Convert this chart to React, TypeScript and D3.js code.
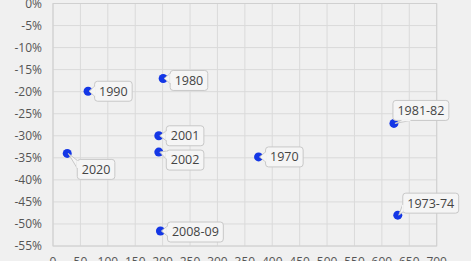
import React, { useEffect, useRef } from "react";
import * as d3 from "d3";

const labels = ["1970", "1973-74", "1980", "1981-82", "1990", "2001", "2002", "2008-09", "2020"];
const durations = [375, 629, 201, 622, 64, 193, 193, 196, 26];
const declines = [-34.8, -48.0, -17.0, -27.2, -19.9, -30.0, -33.7, -51.6, -34.0];
// label box offsets (dx to box left, dy of box centre) relative to the point
const labelDx = [7, 5, 7, -1, 6.5, 7.5, 7.5, 7, 10];
const labelDy = [0, -12, 2, -13, 0, 0, 8, 1, 16];
const xTicks = d3.range(0, 701, 50);
const yTicks = d3.range(0, -56, -5);

const W = 471;
const H = 261;

export default function App() {
  const ref = useRef<SVGSVGElement>(null);
  useEffect(() => {
    const svg = d3.select(ref.current);
    svg.selectAll("*").remove();
    const x = d3.scaleLinear().domain([0, 700]).range([53, 436.7]);
    const y = d3.scaleLinear().domain([0, -55]).range([3.5, 246]);
    const font = "'Open Sans', sans-serif";

    svg.append("rect").attr("width", W).attr("height", H).attr("fill", "#f0f0f0");

    const grid = svg.append("g").attr("stroke", "#dadada").attr("stroke-width", 1);
    xTicks.forEach((t) => {
      grid.append("line").attr("x1", x(t)).attr("x2", x(t)).attr("y1", y(0)).attr("y2", y(-55));
    });
    yTicks.forEach((t) => {
      grid.append("line").attr("x1", x(0)).attr("x2", x(700)).attr("y1", y(t)).attr("y2", y(t));
    });
    svg.append("rect")
      .attr("x", x(0)).attr("y", y(0))
      .attr("width", x(700) - x(0)).attr("height", y(-55) - y(0))
      .attr("fill", "none").attr("stroke", "#d0d0d0");

    svg.append("g").selectAll("text").data(yTicks).join("text")
      .attr("x", 42).attr("y", (d) => y(d)).attr("dy", "0.35em")
      .attr("text-anchor", "end").attr("font-family", font).attr("font-size", 12)
      .attr("fill", "#555").text((d) => `${d}%`);

    svg.append("g").selectAll("text").data(xTicks).join("text")
      .attr("x", (d) => x(d)).attr("y", 266)
      .attr("text-anchor", "middle").attr("font-family", font).attr("font-size", 12)
      .attr("fill", "#555").text((d) => `${d}`);

    labels.forEach((lab, i) => {
      const px = x(durations[i]);
      const py = y(declines[i]);
      svg.append("circle").attr("cx", px).attr("cy", py).attr("r", 4.5).attr("fill", "#1437e6");
      const g = svg.append("g");
      const txt = g.append("text")
        .attr("font-family", font).attr("font-size", 12.5).attr("fill", "#444")
        .text(lab);
      const tw = (txt.node() as SVGTextElement).getComputedTextLength();
      const bw = tw + 9;
      const bh = 20;
      const bx = px + labelDx[i];
      const by = py + labelDy[i] - bh / 2;
      let base: [number, number][];
      if (labelDx[i] < 2) {
        const cx0 = bx + 8;
        base = [[cx0, by + bh], [cx0 + 10, by + bh]];
      } else {
        const cy0 = Math.min(Math.max(py, by + 4), by + bh - 4);
        base = [[bx, Math.max(by + 1, cy0 - 5)], [bx, Math.min(by + bh - 1, cy0 + 5)]];
      }
      g.insert("path", "text")
        .attr("d", `M${base[0][0]},${base[0][1]}L${px + 1},${py}L${base[1][0]},${base[1][1]}Z`)
        .attr("fill", "#f5f5f5").attr("stroke", "#c8c8c8").attr("stroke-width", 1);
      g.insert("rect", "text")
        .attr("x", bx).attr("y", by).attr("width", bw).attr("height", bh)
        .attr("rx", 3).attr("fill", "#f5f5f5").attr("stroke", "#c8c8c8");
      if (labelDx[i] < 2) {
        g.insert("line", "text")
          .attr("x1", base[0][0] + 0.5).attr("x2", base[1][0] - 0.5)
          .attr("y1", by + bh).attr("y2", by + bh)
          .attr("stroke", "#f5f5f5").attr("stroke-width", 1.5);
      } else {
        g.insert("line", "text")
          .attr("x1", bx).attr("x2", bx)
          .attr("y1", base[0][1] + 0.5).attr("y2", base[1][1] - 0.5)
          .attr("stroke", "#f5f5f5").attr("stroke-width", 1.5);
      }
      txt.attr("x", bx + 4.5).attr("y", by + bh / 2).attr("dy", "0.35em");
    });
  }, []);
  return (
    <svg
      ref={ref}
      width={W}
      height={H}
      style={{ position: "absolute", left: 0, top: 0, display: "block" }}
    />
  );
}
